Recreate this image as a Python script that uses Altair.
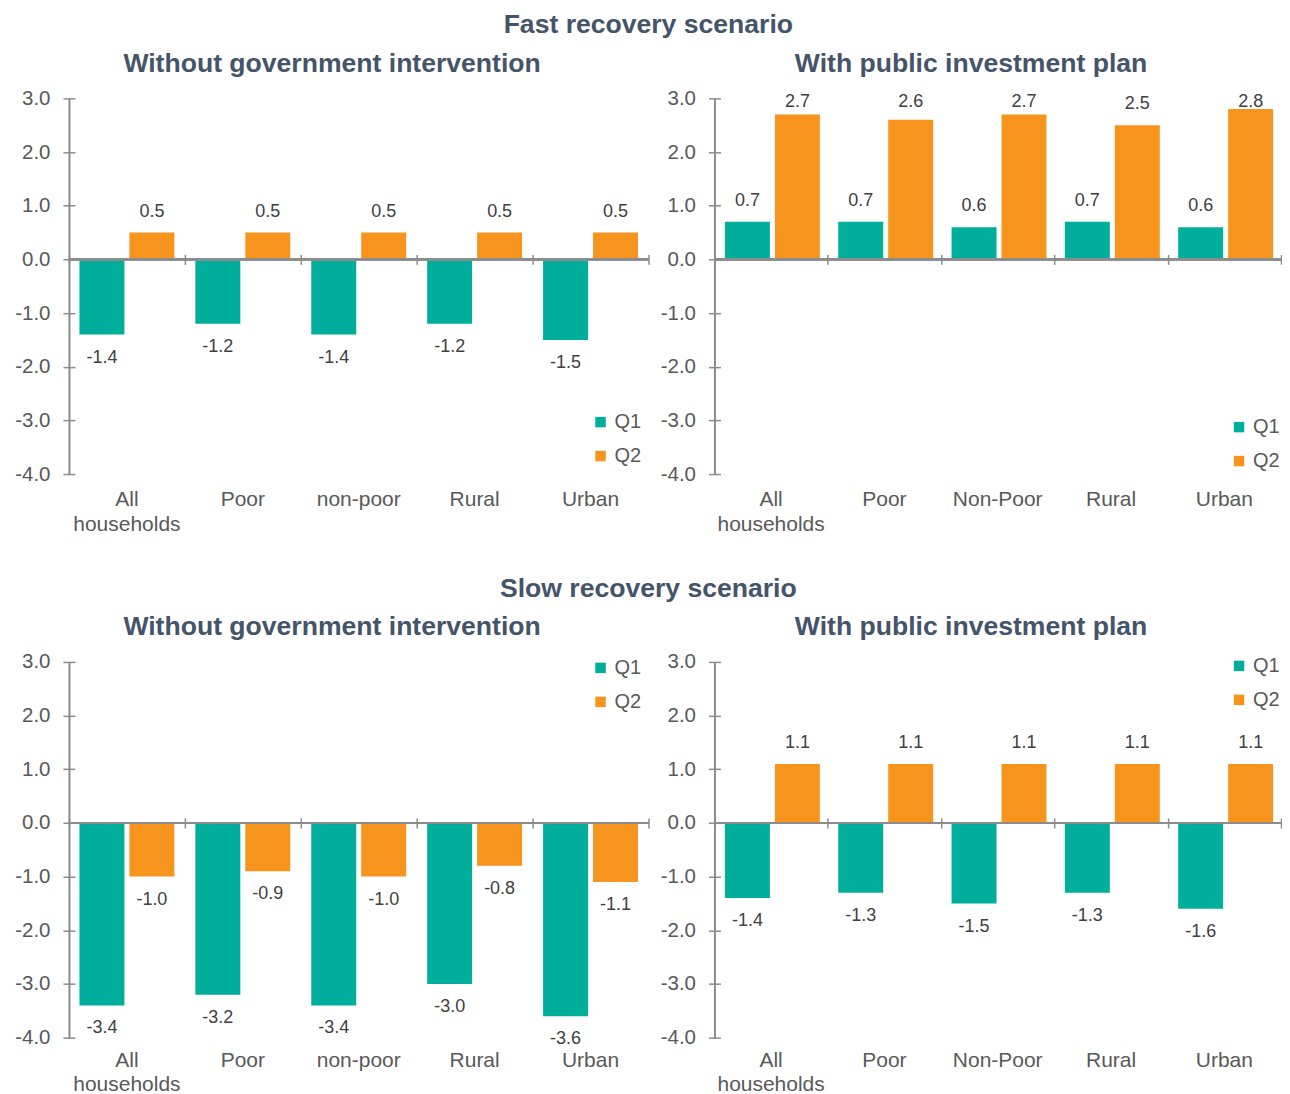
import altair as alt
import pandas as pd

cats_a = ["All households", "Poor", "non-poor", "Rural", "Urban"]
cats_b = ["All households", "Poor", "Non-Poor", "Rural", "Urban"]
series = ["Q1", "Q2"]

fast_none_q1 = [-1.4, -1.2, -1.4, -1.2, -1.5]
fast_none_q2 = [0.5, 0.5, 0.5, 0.5, 0.5]
fast_pub_q1 = [0.7, 0.7, 0.6, 0.7, 0.6]
fast_pub_q2 = [2.7, 2.6, 2.7, 2.5, 2.8]
slow_none_q1 = [-3.4, -3.2, -3.4, -3.0, -3.6]
slow_none_q2 = [-1.0, -0.9, -1.0, -0.8, -1.1]
slow_pub_q1 = [-1.4, -1.3, -1.5, -1.3, -1.6]
slow_pub_q2 = [1.1, 1.1, 1.1, 1.1, 1.1]

y_ticks = [-4, -3, -2, -1, 0, 1, 2, 3]

TEAL = "#00AE9B"
ORANGE = "#F7941E"
AXIS = "#8C8C8C"
LABEL = "#595959"
DATA_LABEL = "#404040"
TITLE = "#44546A"
FONT = "Liberation Sans"

H = 376
YMIN, YMAX = -4, 3
ZERO_FROM_BOTTOM = H * (0 - YMIN) / (YMAX - YMIN)
FMT = "replace(format(datum.value, '.1f'), '\u2212', '-')"


def panel(cats, q1, q2, title, lx, ly, width, lab_pad, lab_lh):
    df = pd.DataFrame({
        "cat": cats + cats,
        "series": ["Q1"] * len(cats) + ["Q2"] * len(cats),
        "value": q1 + q2,
    })
    xs = alt.Scale(domain=cats, paddingInner=0, paddingOuter=0)
    xo = alt.Scale(domain=series, paddingInner=0.1, paddingOuter=0.21)
    ys = alt.Scale(domain=[YMIN, YMAX], nice=False)
    base = alt.Chart(df)

    bars = base.mark_bar().encode(
        x=alt.X("cat:N", scale=xs, sort=cats, title=None,
                axis=alt.Axis(orient="bottom", labels=False, domain=False,
                              ticks=True, tickBand="extent", tickSize=10,
                              tickWidth=1.5, tickColor=AXIS,
                              offset=-(ZERO_FROM_BOTTOM + 5), grid=False)),
        xOffset=alt.XOffset("series:N", scale=xo),
        y=alt.Y("value:Q", scale=ys, title=None,
                axis=alt.Axis(orient="left", labels=False, ticks=False,
                              domain=True, domainColor=AXIS, domainWidth=2,
                              grid=False)),
        color=alt.Color("series:N", scale=alt.Scale(domain=series, range=[TEAL, ORANGE]),
                        title=None,
                        legend=alt.Legend(orient="none", legendX=lx, legendY=ly,
                                          direction="vertical", symbolType="square",
                                          symbolSize=110, symbolStrokeWidth=0,
                                          labelFontSize=20, labelFont=FONT,
                                          labelColor=LABEL, rowPadding=14,
                                          labelOffset=4)),
    )

    zero = base.mark_rule(color=AXIS, strokeWidth=2).encode(
        y=alt.Y(datum=0, axis=None)
    )

    labels = base.transform_calculate(
        ly="datum.value >= 0 ? min(datum.value + 0.39, 2.94) : datum.value - 0.43",
        lbl=FMT,
    ).mark_text(fontSize=18, font=FONT, color=DATA_LABEL, baseline="middle").encode(
        x=alt.X("cat:N", scale=xs, sort=cats, title=None,
                axis=alt.Axis(orient="bottom", domain=False, ticks=False,
                              labelFontSize=21, labelFont=FONT, labelColor=LABEL,
                              labelPadding=lab_pad, labelLineHeight=lab_lh, labelAngle=0,
                              labelExpr="datum.value == 'All households' ? ['All', 'households'] : datum.label",
                              grid=False)),
        xOffset=alt.XOffset("series:N", scale=xo),
        y=alt.Y("ly:Q", scale=ys, title=None,
                axis=alt.Axis(orient="left", values=y_ticks, labelExpr=FMT,
                              domain=False, ticks=True, tickSize=12,
                              tickWidth=1.5, tickColor=AXIS, offset=-6,
                              labelFontSize=20.5, labelFont=FONT, labelColor=LABEL,
                              labelPadding=13, grid=False)),
        text=alt.Text("lbl:N"),
    )

    return alt.layer(bars, zero, labels).resolve_axis(
        x="independent", y="independent"
    ).properties(
        width=width, height=H,
        title=alt.TitleParams(title, fontSize=26.6, font=FONT, fontWeight="bold",
                              color=TITLE, anchor="middle", frame="bounds", offset=11),
    )


def section(title, left, right):
    return alt.hconcat(left, right, spacing=10).resolve_scale(
        x="independent", color="independent"
    ).resolve_legend(color="independent").properties(
        title=alt.TitleParams(title, fontSize=26.6, font=FONT, fontWeight="bold",
                              color=TITLE, anchor="middle", offset=12)
    )


WL, WR = 580, 567

fast = section(
    "Fast recovery scenario",
    panel(cats_a, fast_none_q1, fast_none_q2, "Without government intervention",
          522, 314, WL, 14, 25),
    panel(cats_b, fast_pub_q1, fast_pub_q2, "With public investment plan",
          515, 319, WR, 14, 25),
)
slow = section(
    "Slow recovery scenario",
    panel(cats_a, slow_none_q1, slow_none_q2, "Without government intervention",
          522, -4, WL, 12, 24),
    panel(cats_b, slow_pub_q1, slow_pub_q2, "With public investment plan",
          515, -6, WR, 12, 24),
)

chart = alt.vconcat(fast, slow, spacing=41).resolve_scale(
    color="independent"
).resolve_legend(color="independent").properties(
    padding={"left": 6, "top": 3, "right": 0, "bottom": 0},
    background="white",
).configure_view(stroke=None)

chart.save("out.html", embed_options={"renderer": "svg", "actions": False})
